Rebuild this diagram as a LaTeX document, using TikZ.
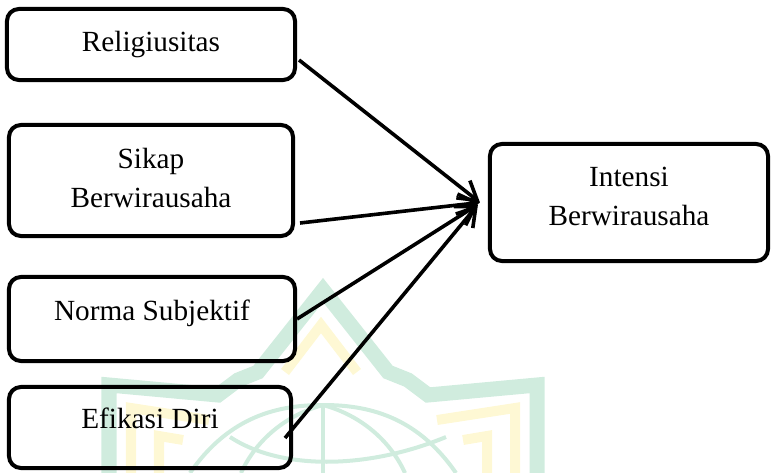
\documentclass[tikz,border=0pt]{standalone}
\usepackage{fontspec}
\setmainfont{Liberation Serif}
\usepackage{tikz}
\usetikzlibrary{arrows.meta,positioning,calc}
\definecolor{wmgreen}{RGB}{208,236,222}
\definecolor{wmyellow}{RGB}{254,248,212}

\begin{document}
\begin{tikzpicture}[x=0.025cm,y=-0.025cm,
    varbox/.style={draw,line width=0.1cm,rounded corners=0.3cm,align=center,inner sep=0pt,
        font={\fontsize{20.8}{27.7}\selectfont}},
    lowtext/.style={text height=14.6pt,text depth=12.6pt},
    link/.style={line width=0.09cm,-{Straight Barb[length=0.45cm,width=0.55cm]}},
    wmline/.style={wmgreen,line width=0.375cm,line join=miter},
    wmglobe/.style={wmgreen,line width=0.1cm},
    wmsoft/.style={wmyellow,line width=0.25cm}]
    \useasboundingbox (0,0) rectangle (771,473);

    \draw[wmline] (109,473) -- (109,385) -- (218,395) -- (238,380) -- (258,372) -- (323,290)
        -- (388,372) -- (408,380) -- (428,395) -- (537,385) -- (537,473);
    \draw[wmsoft] (285,372) -- (321,325) -- (357,372);
    \draw[wmsoft] (437,420) -- (515,408) -- (515,473);
    \draw[wmsoft] (209,420) -- (131,408) -- (131,473);
    \draw[wmsoft] (463,440) -- (487,436) -- (487,473);
    \draw[wmsoft] (183,440) -- (159,436) -- (159,473);
    \draw[wmglobe] (190,473) .. controls (230,415) and (280,405) .. (323,405)
        .. controls (366,405) and (416,415) .. (456,473);
    \draw[wmglobe] (323,405) -- (323,473);
    \draw[wmglobe] (323,405) .. controls (360,415) and (390,440) .. (405,473);
    \draw[wmglobe] (323,405) .. controls (286,415) and (256,440) .. (241,473);
    \draw[wmglobe] (230,437) .. controls (280,470) and (366,470) .. (446,437);

    \node[varbox,minimum width=7.2cm,minimum height=1.775cm] (rel) at (151,44.5) {Religiusitas};
    \node[varbox,text depth=4.3pt,minimum width=7.1cm,minimum height=2.775cm] (sik) at (151,180.5) {Sikap\\Berwirausaha};
    \node[varbox,lowtext,minimum width=7.15cm,minimum height=2.1cm] (nor) at (152,319) {Norma Subjektif};
    \node[varbox,lowtext,minimum width=7.05cm,minimum height=2.025cm] (efi) at (150,427.5) {Efikasi Diri};
    \node[varbox,text depth=8.5pt,minimum width=6.95cm,minimum height=2.925cm] (int) at (629,202.5) {Intensi\\Berwirausaha};

    \coordinate (meet) at ([shift={(-8,0)}]int.west);
    \draw[link] ([shift={(2,15.5)}]rel.east) -- (meet);
    \draw[link] ([shift={(5,42.5)}]sik.east) -- (meet);
    \draw[link] (nor.east) -- ([shift={(-2,2)}]meet);
    \draw[link] ([shift={(-8,10.5)}]efi.east) -- ([shift={(-2,2)}]meet);

\end{tikzpicture}
\end{document}
